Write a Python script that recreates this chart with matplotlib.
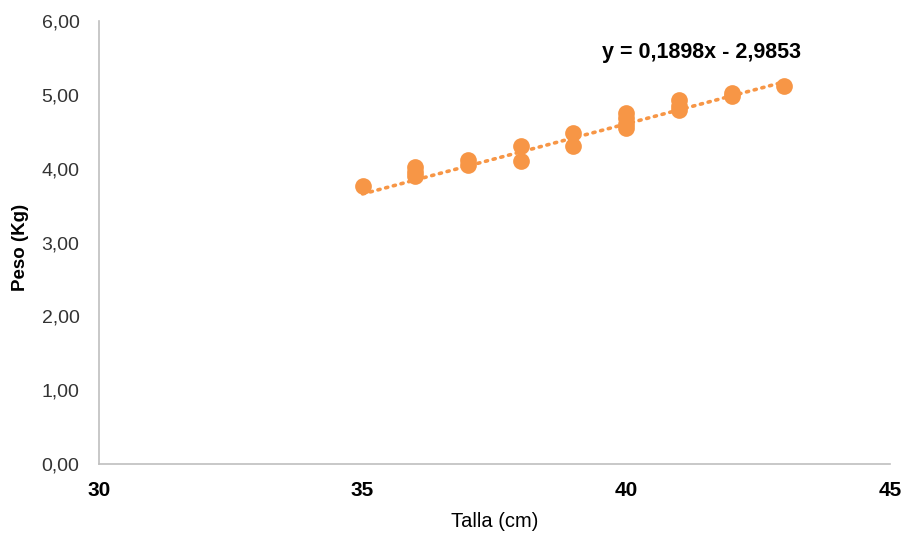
import numpy as np
import matplotlib.pyplot as plt

# Talla (cm) vs Peso (Kg)
talla = [35, 36, 36, 36, 37, 37, 38, 38, 39, 39,
         40, 40, 40, 40, 41, 41, 41, 42, 42, 43]
peso = [3.76, 4.02, 3.95, 3.90, 4.12, 4.05, 4.31, 4.10, 4.49, 4.31,
        4.75, 4.68, 4.60, 4.55, 4.93, 4.85, 4.80, 5.03, 4.98, 5.12]

# linear trend: y = 0,1898x - 2,9853
slope = 0.1898
intercept = -2.9853

x_ticks = [30, 35, 40, 45]
y_ticks = [0, 1, 2, 3, 4, 5, 6]

orange = "#F79646"
plt.rcParams['font.family'] = ['Liberation Sans', 'DejaVu Sans']

fig = plt.figure(figsize=(9.08, 5.35), dpi=100)
ax = fig.add_axes([0.109, 0.1327, 0.871, 0.828])

ax.scatter(talla, peso, s=145, color=orange, zorder=3, linewidths=0)

xt = np.array([min(talla), max(talla)])
ax.plot(xt, slope * xt + intercept, linestyle=(0, (0.6, 1.6)), color=orange,
        linewidth=2.6, dash_capstyle='round', zorder=2)

ax.text(41.43, 5.58, "y = 0,1898x - 2,9853", fontsize=15.5, fontweight='bold',
        ha='center', va='center', color='#000000')

ax.set_xlim(30, 45)
ax.set_ylim(0, 6)
ax.set_xticks(x_ticks)
ax.set_yticks(y_ticks)
ax.set_xticklabels([str(v) for v in x_ticks], fontsize=15, fontweight='bold')
ax.set_yticklabels([f"{v:.2f}".replace('.', ',') for v in y_ticks], fontsize=14,
                   color='#333333')
ax.tick_params(axis='both', length=0)
ax.tick_params(axis='x', pad=12)
ax.tick_params(axis='y', pad=14)

for side in ('top', 'right'):
    ax.spines[side].set_visible(False)
for side in ('left', 'bottom'):
    ax.spines[side].set_color('#BFBFBF')
    ax.spines[side].set_linewidth(1.2)

ax.set_xlabel("Talla (cm)", fontsize=14.5, labelpad=9)
ax.set_ylabel("Peso (Kg)", fontsize=13.5, fontweight='bold')
ax.yaxis.set_label_coords(-0.088, 0.49)

fig.savefig("out.png", dpi=100)
